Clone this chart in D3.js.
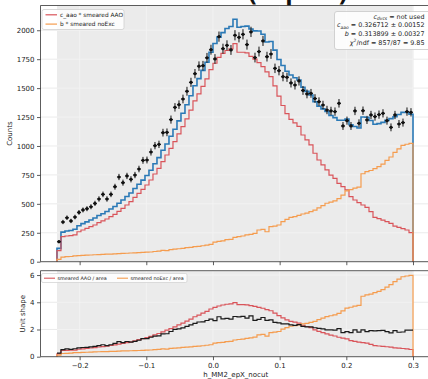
<!DOCTYPE html>
<html>
<head>
<meta charset="utf-8">
<script src="https://cdn.jsdelivr.net/npm/d3@7"></script>
<style>
  html, body { margin: 0; padding: 0; background: #fff; }
  svg { display: block; font-family: "DejaVu Sans", sans-serif; }
</style>
</head>
<body>
<svg id="chart" width="428" height="379"></svg>
<script>
// Histogram binning of h_MM2_epX_nocut (fit range)
const histLow = -0.234;
const binWidth = 0.006;

// Measured counts per bin
const dataCounts = [173,343,380,352,386,426,447,458,475,504,
  542,582,542,582,648,732,683,741,712,749,
  801,876,879,948,1003,1014,1115,1118,1228,1334,
  1357,1406,1473,1550,1625,1690,1694,1762,1832,1752,
  1945,1841,1870,1830,1957,1939,1965,1876,1986,1764,
  1816,1908,1772,1795,1671,1651,1599,1594,1545,1527,
  1562,1480,1450,1455,1410,1383,1354,1311,1303,1297,
  1369,1173,1219,1173,1303,1196,1305,1225,1268,1254,
  1271,1282,1219,1161,1268,1190,1202,1297,1291];

// c_aao * smeared AAO template
const aaoScaled = [95,216,222,225,231,259,274,288,303,317,
  337,352,369,389,409,435,461,490,519,556,
  591,625,663,706,758,807,865,922,980,1037,
  1105,1167,1235,1310,1390,1450,1515,1580,1660,1715,
  1765,1800,1825,1840,1885,1810,1810,1805,1775,1750,
  1720,1686,1640,1600,1520,1430,1350,1280,1230,1200,
  1170,1095,1052,1009,937,879,836,793,749,720,
  677,648,620,562,533,510,490,470,432,383,
  372,360,346,331,308,297,285,274,251];

// b * smeared noExc template
const noExcScaled = [20,40,43,45,50,52,55,56,58,60,
  62,63,65,66,68,70,72,73,75,76,
  78,80,82,84,88,92,98,95,104,108,
  112,116,121,124,130,132,138,144,150,170,
  176,180,190,193,210,216,222,231,236,245,
  274,280,259,303,308,317,346,366,383,389,
  400,412,420,432,445,465,485,505,515,525,
  545,575,612,622,635,645,760,778,788,805,
  821,844,875,905,945,975,1005,1015,1023];

const xTicks = [-0.2, -0.1, 0.0, 0.1, 0.2, 0.3];
const countTicks = [0, 250, 500, 750, 1000, 1250, 1500, 1750, 2000];
const shapeTicks = [0, 2, 4, 6];

const topLegend = [
  { label: "c_aao * smeared AAO", color: "#d9545a" },
  { label: "b * smeared noExc", color: "#f59c4e" }
];
const bottomLegend = [
  { label: "smeared AAO / area", color: "#d9545a" },
  { label: "smeared noExc / area", color: "#f59c4e" }
];

const COL_TOTAL = "#2a79b6", COL_AAO = "#d9545a", COL_NOEXC = "#f59c4e";
const BAND = "#ebebeb", GRID_OUT = "#e6e6e6", GRID_IN = "#f4f4f4", AXIS = "#333";

const svg = d3.select("#chart");
const nBins = dataCounts.length;
const edges = d3.range(nBins + 1).map(i => histLow + i * binWidth);
const histHigh = edges[nBins];

// Fitted total = sum of both scaled templates
const totalFit = aaoScaled.map((v, i) => v + noExcScaled[i]);

// Unit-area shapes for the ratio panel
const toShape = arr => { const a = d3.sum(arr) * binWidth; return arr.map(v => v / a); };
const aaoShape = toShape(aaoScaled);
const noExcShape = toShape(noExcScaled);
const dataShape = toShape(dataCounts);

const L = 40.5, R = 431;
const x = d3.scaleLinear().domain([-0.2587, 0.327]).range([L, R]);
const yTop = d3.scaleLinear().domain([0, 2214]).range([261.7, 5.5]);
const yBot = d3.scaleLinear().domain([0, 6.32]).range([356.7, 270.7]);

// Title (large, sits above the frame; only its lowest strokes reach the page)
svg.append("text").attr("x", 352).attr("y", -1).attr("text-anchor", "end")
  .attr("dominant-baseline", "alphabetic")
  .attr("font-size", 40).attr("fill", "#111").text("MM2 fit (epX)");

function panel(y, ticks, id) {
  const [y0, y1] = y.range();
  const g = svg.append("g");
  svg.append("clipPath").attr("id", id).append("rect")
    .attr("x", L).attr("y", y1).attr("width", R - L).attr("height", y0 - y1);
  const grid = g.append("g");
  grid.selectAll(".gx").data(xTicks).join("line")
    .attr("x1", d => x(d)).attr("x2", d => x(d)).attr("y1", y1).attr("y2", y0)
    .attr("stroke", GRID_OUT).attr("stroke-width", 0.8);
  grid.selectAll(".gy").data(ticks).join("line")
    .attr("x1", L).attr("x2", R).attr("y1", d => y(d)).attr("y2", d => y(d))
    .attr("stroke", GRID_OUT).attr("stroke-width", 0.8);
  // shaded fit range
  g.append("rect").attr("x", x(histLow)).attr("y", y1)
    .attr("width", x(histHigh) - x(histLow)).attr("height", y0 - y1).attr("fill", BAND);
  const gin = g.append("g");
  gin.selectAll(".ix").data(xTicks.filter(t => t >= histLow && t <= histHigh)).join("line")
    .attr("x1", d => x(d)).attr("x2", d => x(d)).attr("y1", y1).attr("y2", y0)
    .attr("stroke", GRID_IN).attr("stroke-width", 0.8);
  gin.selectAll(".iy").data(ticks).join("line")
    .attr("x1", x(histLow)).attr("x2", x(histHigh)).attr("y1", d => y(d)).attr("y2", d => y(d))
    .attr("stroke", GRID_IN).attr("stroke-width", 0.8);
  const plot = g.append("g").attr("clip-path", `url(#${id})`);
  return { g, plot, y0, y1 };
}

function stepPoints(vals, closed) {
  const pts = [];
  if (closed) pts.push([edges[0], 0]);
  vals.forEach((v, i) => { pts.push([edges[i], v]); pts.push([edges[i + 1], v]); });
  if (closed) pts.push([edges[nBins], 0]);
  return pts;
}

function drawStep(plot, y, vals, color, width, closed) {
  const line = d3.line().x(d => x(d[0])).y(d => y(d[1]));
  plot.append("path").attr("d", line(stepPoints(vals, closed)))
    .attr("fill", "none").attr("stroke", color).attr("stroke-width", width)
    .attr("stroke-linejoin", "miter");
}

function axes(p, y, ticks, fmtY, showX) {
  const g = p.g;
  g.append("line").attr("x1", L).attr("x2", L).attr("y1", p.y1).attr("y2", p.y0)
    .attr("stroke", AXIS).attr("stroke-width", 0.8);
  g.append("line").attr("x1", L).attr("x2", R).attr("y1", p.y0).attr("y2", p.y0)
    .attr("stroke", AXIS).attr("stroke-width", 0.8);
  g.append("line").attr("x1", L).attr("x2", R).attr("y1", p.y1).attr("y2", p.y1)
    .attr("stroke", AXIS).attr("stroke-width", 0.8);
  const yAxis = d3.axisLeft(y).tickValues(ticks).tickFormat(fmtY).tickSize(3.5).tickPadding(2.5);
  const ya = g.append("g").attr("transform", `translate(${L},0)`).call(yAxis);
  ya.select(".domain").remove();
  ya.selectAll("line").attr("stroke", AXIS).attr("stroke-width", 0.8);
  ya.selectAll("text").attr("font-size", 7).attr("fill", "#222").attr("font-family", "DejaVu Sans");
  const xAxis = d3.axisBottom(x).tickValues(xTicks).tickFormat(showX ? d3.format(".1f") : "")
    .tickSize(3.5).tickPadding(2.5);
  const xa = g.append("g").attr("transform", `translate(0,${p.y0})`).call(xAxis);
  xa.select(".domain").remove();
  xa.selectAll("line").attr("stroke", AXIS).attr("stroke-width", 0.8);
  xa.selectAll("text").attr("font-size", 7).attr("fill", "#222").attr("font-family", "DejaVu Sans");
}

// ---------- upper panel: counts ----------
const upper = panel(yTop, countTicks, "clipTop");
drawStep(upper.plot, yTop, totalFit, COL_TOTAL, 1.6, true);
drawStep(upper.plot, yTop, aaoScaled, COL_AAO, 1.2, true);
drawStep(upper.plot, yTop, noExcScaled, COL_NOEXC, 1.2, true);

const pts = upper.plot.append("g");
dataCounts.forEach((v, i) => {
  const cx = x((edges[i] + edges[i + 1]) / 2);
  const err = Math.sqrt(v);
  pts.append("line").attr("x1", cx).attr("x2", cx)
    .attr("y1", yTop(v - err)).attr("y2", yTop(v + err))
    .attr("stroke", "#111").attr("stroke-width", 1);
  pts.append("line").attr("x1", x(edges[i])).attr("x2", x(edges[i + 1]))
    .attr("y1", yTop(v)).attr("y2", yTop(v))
    .attr("stroke", "#111").attr("stroke-width", 1);
  pts.append("circle").attr("cx", cx).attr("cy", yTop(v)).attr("r", 1.6).attr("fill", "#111");
});
axes(upper, yTop, countTicks, d3.format("d"), false);

svg.append("text").attr("transform", `translate(12,${(upper.y0 + upper.y1) / 2}) rotate(-90)`)
  .attr("text-anchor", "middle").attr("font-size", 7).attr("fill", "#222").text("Counts");

// legend
const lg = svg.append("g");
lg.append("rect").attr("x", 42).attr("y", 9.5).attr("width", 82).attr("height", 20).attr("rx", 2)
  .attr("fill", "#fff").attr("fill-opacity", 0.85).attr("stroke", "#cfcfcf").attr("stroke-width", 0.8);
topLegend.forEach((d, i) => {
  const yy = 14.8 + i * 9.3;
  lg.append("line").attr("x1", 45.5).attr("x2", 57).attr("y1", yy).attr("y2", yy)
    .attr("stroke", d.color).attr("stroke-width", 1.2);
  lg.append("text").attr("x", 60).attr("y", yy + 2).attr("font-size", 5.8).attr("fill", "#222").text(d.label);
});

// fit result box
const fb = svg.append("g");
fb.append("rect").attr("x", 334.5).attr("y", 11.5).attr("width", 100).attr("height", 38).attr("rx", 2.5)
  .attr("fill", "#fff").attr("fill-opacity", 0.85).attr("stroke", "#c8c8c8").attr("stroke-width", 0.8);
const fx = 424.5, fs = 6.4;
function infoLine(yy, parts) {
  const t = fb.append("text").attr("x", fx).attr("y", yy).attr("text-anchor", "end")
    .attr("font-size", fs).attr("fill", "#222");
  parts.forEach(p => {
    const s = t.append("tspan").text(p.t);
    if (p.i) s.attr("font-style", "italic");
    if (p.sub) s.attr("font-size", fs * 0.7).attr("dy", 1.5);
    if (p.sup) s.attr("font-size", fs * 0.7).attr("dy", -2.5);
    if (p.back) s.attr("dy", p.back);
  });
}
infoLine(18.6, [{ t: "c", i: 1 }, { t: "dvcs", i: 1, sub: 1 }, { t: " = not used", back: -1.5 }]);
infoLine(27.3, [{ t: "c", i: 1 }, { t: "aao", i: 1, sub: 1 }, { t: " = 0.326712 ± 0.00152", back: -1.5 }]);
infoLine(35.6, [{ t: "b", i: 1 }, { t: " = 0.313899 ± 0.00327" }]);
infoLine(44.6, [{ t: "χ", i: 1 }, { t: "2", sup: 1 }, { t: "/ndf = 857/87 = 9.85", back: 2.5 }]);

// ---------- lower panel: unit shapes ----------
const lower = panel(yBot, shapeTicks, "clipBot");
drawStep(lower.plot, yBot, aaoShape, COL_AAO, 1.2, true);
drawStep(lower.plot, yBot, noExcShape, COL_NOEXC, 1.2, true);
drawStep(lower.plot, yBot, dataShape, "#1a1a1a", 1.2, false);
axes(lower, yBot, shapeTicks, d3.format("d"), true);

svg.append("text").attr("transform", `translate(24.5,${(lower.y0 + lower.y1) / 2}) rotate(-90)`)
  .attr("text-anchor", "middle").attr("font-size", 7).attr("fill", "#222").text("Unit shape");
svg.append("text").attr("x", (L + R) / 2).attr("y", 377).attr("text-anchor", "middle")
  .attr("font-size", 7).attr("fill", "#222").text("h_MM2_epX_nocut");

const bl = svg.append("g");
bl.append("rect").attr("x", 41.5).attr("y", 273.5).attr("width", 145.5).attr("height", 9).attr("rx", 1.5)
  .attr("fill", "#fff").attr("fill-opacity", 0.85).attr("stroke", "#cfcfcf").attr("stroke-width", 0.7);
bottomLegend.forEach((d, i) => {
  const x0 = i === 0 ? 44 : 117, yy = 278.2;
  bl.append("line").attr("x1", x0).attr("x2", x0 + 11).attr("y1", yy).attr("y2", yy)
    .attr("stroke", d.color).attr("stroke-width", 1.1);
  bl.append("text").attr("x", x0 + 13.5).attr("y", yy + 1.8).attr("font-size", 4.9)
    .attr("fill", "#222").text(d.label);
});
</script>
</body>
</html>
